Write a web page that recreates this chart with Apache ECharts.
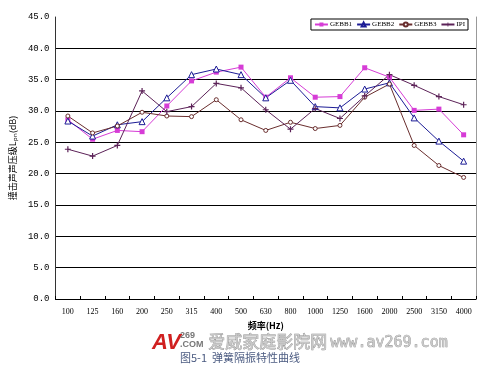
<!DOCTYPE html>
<html><head><meta charset="utf-8">
<script src="https://cdn.jsdelivr.net/npm/echarts@6/dist/echarts.min.js"></script>
<style>html,body{margin:0;padding:0;background:#fff}#c{width:500px;height:369px}</style>
</head><body><div id="c"></div>
<script>
const categories = ['100','125','160','200','250','315','400','500','630','800','1000','1250','1600','2000','2500','3150','4000'];
const gebb1 = [28.6,25.5,26.9,26.7,30.8,34.8,36.2,37.0,32.2,35.3,32.2,32.3,36.9,35.4,30.1,30.3,26.2];
const gebb2 = [28.4,26.0,27.8,28.3,32.1,35.8,36.7,35.8,32.1,34.9,30.7,30.5,33.5,34.5,28.9,25.2,22.0];
const gebb3 = [29.2,26.5,27.6,29.8,29.2,29.1,31.8,28.6,26.9,28.2,27.2,27.7,32.2,34.3,24.5,21.3,19.4];
const ipi   = [23.9,22.8,24.5,33.2,29.9,30.7,34.4,33.7,30.2,27.1,30.4,28.8,32.4,35.8,34.1,32.3,31.0];
const yTicks = {min:0, max:45, interval:5};

const chart = echarts.init(document.getElementById('c'), null, {renderer:'canvas'});
const plus = 'path://M4,0h2v4h4v2h-4v4h-2v-4h-4v-2h4z';
function ser(name, data, color, symbol, size, fill){
  return {name, type:'line', data, symbol, symbolSize:size, showAllSymbol:true,
    lineStyle:{color, width:1}, itemStyle:{color: fill||color, borderColor:color, borderWidth: fill?1:0},
    emphasis:{disabled:true}, z:3};
}
chart.setOption({
  animation:false,
  backgroundColor:'#fff',
  grid:{left:55, right:24, top:17, bottom:70},
  legend:{
    data:['GEBB1','GEBB2','GEBB3','IPI'],
    right:32, top:19, padding:[2,3], itemGap:4, itemWidth:13, itemHeight:5,
    borderColor:'#000', borderWidth:1, backgroundColor:'#fff',
    textStyle:{fontSize:7, fontFamily:'Liberation Serif', color:'#000', padding:[0,0,0,-3]}
  },
  xAxis:{type:'category', data:categories, boundaryGap:true,
    name:'频率(Hz)', nameLocation:'middle', nameGap:22,
    nameTextStyle:{fontSize:9, fontFamily:'Noto Sans CJK SC', fontWeight:'bold', color:'#000'},
    axisLine:{lineStyle:{color:'#000', width:1}},
    axisTick:{show:true, inside:true, length:3, lineStyle:{color:'#000'}},
    axisLabel:{fontSize:8, fontFamily:'Liberation Serif', color:'#000', margin:9, interval:0}
  },
  yAxis:[{type:'value', min:yTicks.min, max:yTicks.max, interval:yTicks.interval,
    name:'撞击声声压级Lₚₙ(dB)', nameLocation:'middle', nameGap:30,
    nameTextStyle:{fontSize:9, fontFamily:'Noto Sans CJK SC', color:'#000'},
    axisLine:{show:true, lineStyle:{color:'#333', width:1}},
    axisTick:{show:false},
    axisLabel:{fontSize:9, fontFamily:'Liberation Mono', color:'#000', margin:6,
      formatter:v=>v.toFixed(1)},
    splitLine:{show:true, showMaxLine:false, lineStyle:{color:'#000', width:1}}
  },{type:'value', min:yTicks.min, max:yTicks.max, interval:yTicks.interval, position:'right',
    axisLine:{show:true, lineStyle:{color:'#999', width:1}}, axisTick:{show:false},
    axisLabel:{show:false}, splitLine:{show:false}}],
  series:[
    ser('GEBB1', gebb1, '#d63cd6', 'rect', 5),
    ser('GEBB2', gebb2, '#1c1c96', 'triangle', 6, '#fff'),
    ser('GEBB3', gebb3, '#6a2e2e', 'circle', 4, '#fff'),
    ser('IPI', ipi, '#5c2258', plus, 6)
  ],
  graphic:[
    {type:'text', left:152, top:332, style:{text:'AV', fontSize:22, fontWeight:'bold', fontStyle:'italic', fontFamily:'Liberation Sans', fill:'#d02020'}},
    {type:'text', left:180, top:331, style:{text:'269\n.COM', fontSize:9, fontWeight:'bold', fontFamily:'Liberation Sans', fill:'#777', lineHeight:9}},
    {type:'text', left:208, top:333, style:{text:'爱威家庭影院网', fontSize:17, fontFamily:'Noto Sans CJK SC', fill:'#c8c8c8', stroke:'#888', lineWidth:0.6}},
    {type:'text', left:330, top:335, style:{text:'www.av269.com', fontSize:15, fontFamily:'DejaVu Sans Mono', fill:'#c8c8c8', stroke:'#888', lineWidth:0.6}},
    {type:'text', left:180, top:352, style:{text:'图5-1  弹簧隔振特性曲线', fontSize:11, fontFamily:'Noto Sans CJK SC', fill:'#4a5a80'}}
  ]
});
</script></body></html>
